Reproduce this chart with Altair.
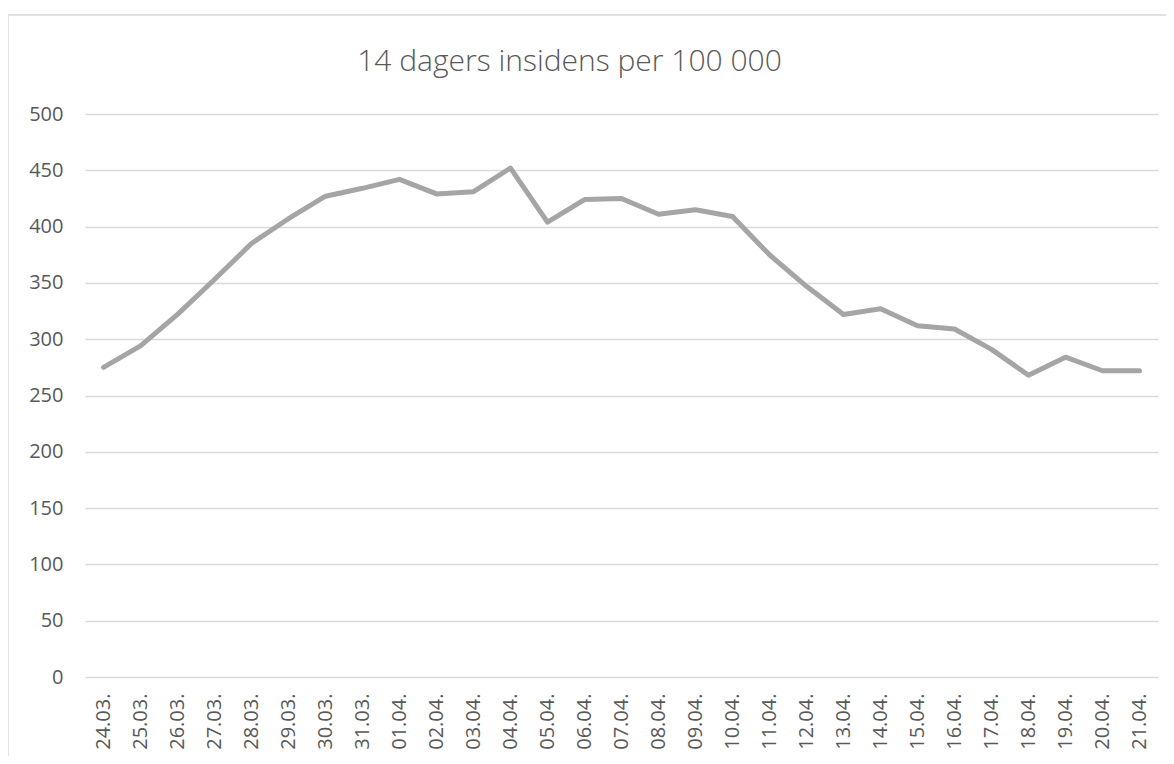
import altair as alt
import pandas as pd

dates = ["24.03.", "25.03.", "26.03.", "27.03.", "28.03.", "29.03.", "30.03.", "31.03.",
         "01.04.", "02.04.", "03.04.", "04.04.", "05.04.", "06.04.", "07.04.", "08.04.",
         "09.04.", "10.04.", "11.04.", "12.04.", "13.04.", "14.04.", "15.04.", "16.04.",
         "17.04.", "18.04.", "19.04.", "20.04.", "21.04."]
values = [275, 294, 322, 353, 385, 407, 427, 434,
          442, 429, 431, 452, 404, 424, 425, 411,
          415, 409, 375, 347, 322, 327, 312, 309,
          291, 268, 284, 272, 272]
y_ticks = [0, 50, 100, 150, 200, 250, 300, 350, 400, 450, 500]

df = pd.DataFrame({"dato": dates, "verdi": values})

W, H = 1073, 563
FONT = "Open Sans"
TXT = "#595959"

line = alt.Chart(df).mark_line(
    color="#a5a5a5", strokeWidth=5, strokeCap="round", strokeJoin="round"
).encode(
    x=alt.X("dato:N", sort=dates, title=None,
            scale=alt.Scale(type="point", padding=0.5),
            axis=alt.Axis(labelAngle=-90, ticks=False, domain=False, grid=False,
                          labelPadding=16, labelFont=FONT, labelFontSize=20,
                          labelColor=TXT)),
    y=alt.Y("verdi:Q", title=None,
            scale=alt.Scale(domain=[0, 500], nice=False),
            axis=alt.Axis(values=y_ticks, ticks=False, domain=False, grid=True,
                          gridColor="#d9d9d9", gridWidth=1.3,
                          labelPadding=22, labelFont=FONT, labelFontSize=20,
                          labelColor=TXT)),
)

frame = alt.Chart(pd.DataFrame({"f": [0]})).mark_rect(
    fill="transparent", stroke="#d9d9d9", strokeWidth=1.5
).encode(
    x=alt.value(-77), x2=alt.value(1200),
    y=alt.value(-99), y2=alt.value(800),
)

chart = alt.layer(frame, line).properties(
    width=W, height=H,
    padding={"left": 77, "top": 106, "right": 8, "bottom": 79},
    autosize=alt.AutoSizeParams(type="none"),
    title=alt.TitleParams("14 dagers insidens per 100 000", font=FONT, fontSize=30,
                          fontWeight=300, color=TXT, anchor="middle", offset=-63, dx=-52),
).configure_view(stroke=None)

chart.save("out.html", embed_options={"renderer": "svg", "actions": False})
